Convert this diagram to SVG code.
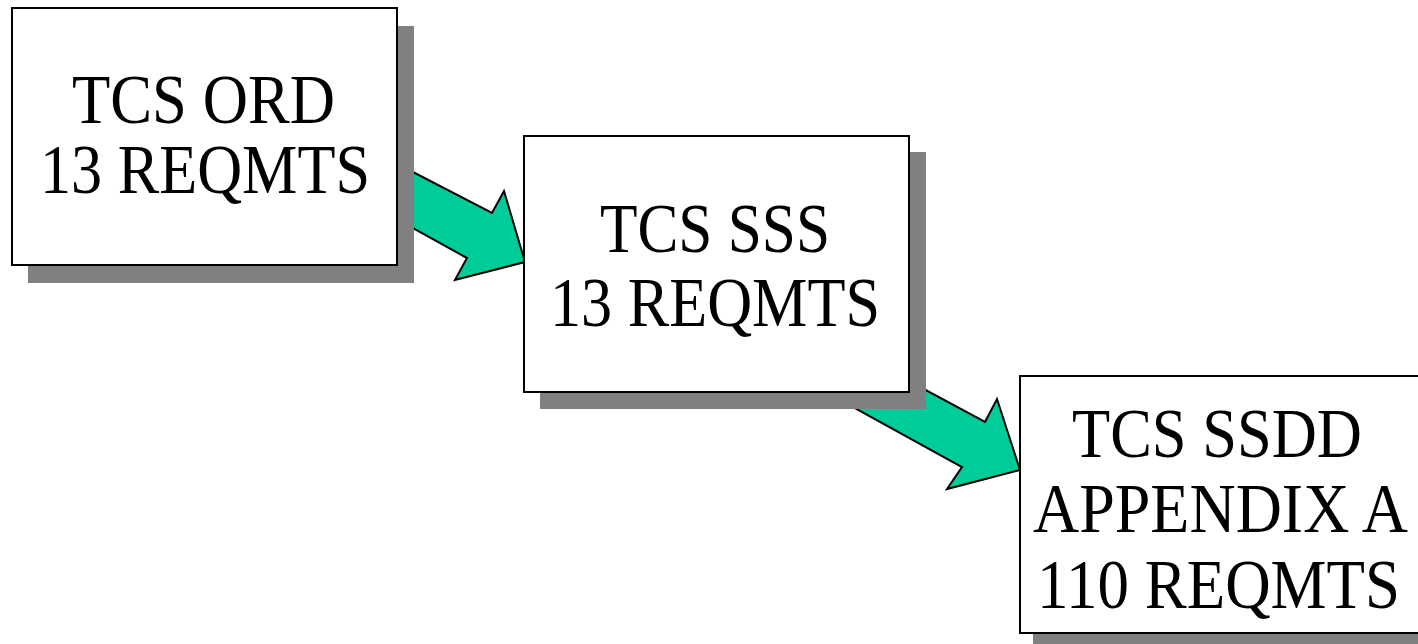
<svg xmlns="http://www.w3.org/2000/svg" width="1418" height="644" viewBox="0 0 1418 644">
<style>
.shadow{fill:#808080;}
.box{fill:#ffffff;stroke:#000000;stroke-width:2;}
.arrow{fill:#00CC99;stroke:#000000;stroke-width:2;stroke-linejoin:miter;}
.lbl{font-family:"Liberation Serif","Times New Roman",serif;font-size:69px;fill:#000000;}
</style>
<rect width="1418" height="644" fill="#ffffff"/>
<g id="connectors">
<polygon class="arrow" points="380,155 492,213 504,191 525,262 455,280 467,258 380,210"/>
<polygon class="arrow" points="840,344 985,422 997,399 1020,470 947,489 962,467 840,400"/>
</g>
<g id="node-ord">
<rect class="shadow" x="28" y="26" width="386" height="257"/>
<rect class="box" x="12" y="8" width="385" height="257"/>
<text class="lbl" x="72" y="123" textLength="263" lengthAdjust="spacingAndGlyphs">TCS ORD</text>
<text class="lbl" x="40" y="193" textLength="330" lengthAdjust="spacingAndGlyphs">13 REQMTS</text>
</g>
<g id="node-sss">
<rect class="shadow" x="540" y="152" width="386" height="257"/>
<rect class="box" x="524" y="136" width="385" height="256"/>
<text class="lbl" x="600" y="252" textLength="230" lengthAdjust="spacingAndGlyphs" style="font-size:70px">TCS SSS</text>
<text class="lbl" x="550" y="326" textLength="330" lengthAdjust="spacingAndGlyphs" style="font-size:70px">13 REQMTS</text>
</g>
<g id="node-ssdd">
<rect class="shadow" x="1033" y="392" width="400" height="257"/>
<rect class="box" x="1020" y="376" width="410" height="257"/>
<text class="lbl" x="1072" y="457" textLength="290" lengthAdjust="spacingAndGlyphs">TCS SSDD</text>
<text class="lbl" x="1033" y="532" textLength="375" lengthAdjust="spacingAndGlyphs">APPENDIX A</text>
<text class="lbl" x="1037" y="608" textLength="363" lengthAdjust="spacingAndGlyphs">110 REQMTS</text>
</g>
</svg>
